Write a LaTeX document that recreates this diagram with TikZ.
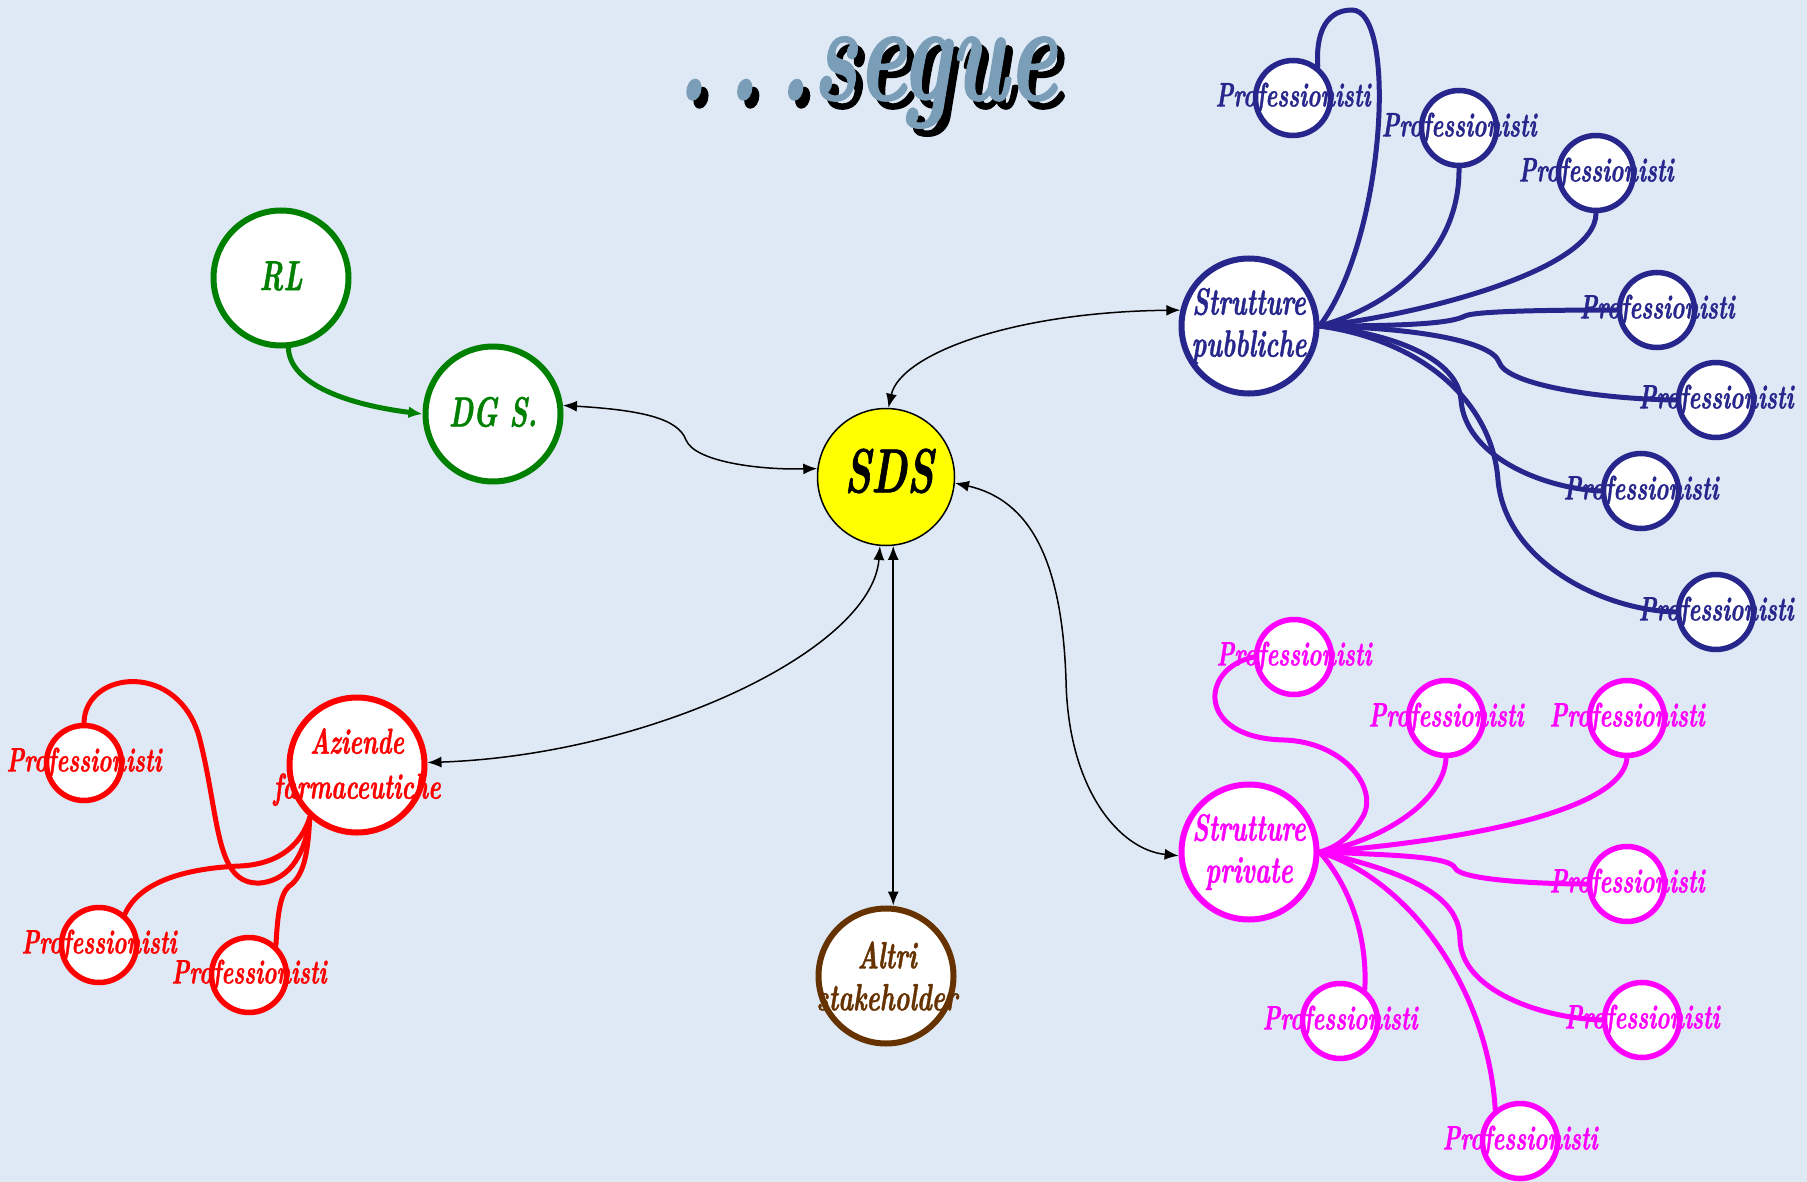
\documentclass[tikz,border=0pt]{standalone}
\usepackage{fontspec}
\usetikzlibrary{arrows.meta}
\newfontfamily\handf{lmroman10-bolditalic}[Extension=.otf, FakeStretch=0.66, FakeBold=1]
\definecolor{bgc}{RGB}{223,233,245}
\definecolor{bl}{RGB}{38,38,140}
\definecolor{mg}{RGB}{255,0,255}
\definecolor{rd}{RGB}{255,0,0}
\definecolor{gr}{RGB}{0,128,0}
\definecolor{br}{RGB}{102,51,0}
\definecolor{yl}{RGB}{255,255,0}
\definecolor{ttl}{RGB}{122,157,184}
\pgfdeclarelayer{bg}
\pgfsetlayers{bg,main}
\tikzset{
  bigc/.style={circle, fill=white, line width=6pt, minimum size=135pt, inner sep=0pt},
  smallc/.style={circle, fill=white, line width=5.5pt, minimum size=75pt, inner sep=0pt},
  ptxt/.style={font={\handf\fontsize{34}{34}\selectfont}, inner sep=0pt},
  mtxt/.style={font={\handf\fontsize{38}{42}\selectfont}, align=center, inner sep=0pt},
  atxt/.style={font={\handf\fontsize{36}{45}\selectfont}, align=center, inner sep=0pt},
  gtxt/.style={font={\handf\fontsize{42}{42}\selectfont}, inner sep=0pt},
  ttxt/.style={font={\handf\fontsize{140}{140}\selectfont}, anchor=base east, inner sep=0pt},
  conn/.style={line width=5pt, line cap=round},
  darr/.style={line width=1.5pt, black, {Latex[length=14pt,width=11pt]}-{Latex[length=14pt,width=11pt]}},
}
\newcommand\profnode[3]{%
  \node[smallc, draw=#1] (#2) at (#3) {};
  \node[ptxt, text=#1] (#2t) at (#2) {Professionisti};}
\begin{document}
\begin{tikzpicture}[x=1pt,y=-1pt]
\begin{pgfonlayer}{bg}
\fill[bgc] (0,0) rectangle (1807,1182);
\end{pgfonlayer}
\useasboundingbox (0,0) rectangle (1807,1182);

% title
\node[ttxt, text=black] (titleS) at (1064,108) {.\kern18pt.\kern18pt.\kern2pt segue};
\node[ttxt, text=ttl] (title) at (1057,100) {.\kern18pt.\kern18pt.\kern2pt segue};

% main nodes
\node[bigc, draw=gr] (rl) at (281,278) {};
\node[gtxt, text=gr] (rlt) at (281,276) {RL};
\node[bigc, draw=gr] (dg) at (493,414) {};
\node[gtxt, text=gr] (dgt) at (493,412) {DG S.};
\node[circle, fill=yl, draw=black, line width=1.5pt, minimum size=137pt, inner sep=0pt] (sds) at (886,477) {};
\node[font={\handf\fontsize{62}{62}\selectfont}, inner sep=0pt] (sdst) at (889,471) {SDS};
\node[bigc, draw=bl] (pub) at (1249,326) {};
\node[mtxt, text=bl] (pubt) at (pub) {Strutture\\pubbliche};
\node[bigc, draw=mg] (priv) at (1249,852) {};
\node[mtxt, text=mg] (privt) at (priv) {Strutture\\private};
\node[bigc, draw=rd] (az) at (357,765) {};
\node[atxt, text=rd] (azt) at (357,767) {Aziende\\farmaceutiche};
\node[bigc, draw=br] (altri) at (886,976) {};
\node[mtxt, text=br] (altrit) at (887,976) {Altri\\stakeholder};

% professionisti
\profnode{bl}{b1}{1293,98}
\profnode{bl}{b2}{1459,128}
\profnode{bl}{b3}{1596,173}
\profnode{bl}{b4}{1657,310}
\profnode{bl}{b5}{1716,400}
\profnode{bl}{b6}{1641,491}
\profnode{bl}{b7}{1716,612}
\profnode{mg}{m1}{1294,657}
\profnode{mg}{m2}{1446,718}
\profnode{mg}{m3}{1627,718}
\profnode{mg}{m4}{1627,884}
\profnode{mg}{m5}{1642,1020}
\profnode{mg}{m6}{1520,1141}
\profnode{mg}{m7}{1340,1021}
\profnode{rd}{r1}{84,763}
\profnode{rd}{r2}{99,945}
\profnode{rd}{r3}{249,975}

% coloured connectors
\begin{pgfonlayer}{bg}
\begin{scope}[conn, draw=bl]
\draw (pub.east) .. controls (1385,240) and (1398,10) .. (1352,10) .. controls (1322,10) and (1316,40) .. (b1.52);
\draw (pub.east) .. controls (1380,310) and (1460,260) .. (b2.south);
\draw (pub.east) .. controls (1420,315) and (1596,270) .. (b3.south);
\draw (pub.east) .. controls (1400,326) and (1450,324) .. (1465,316) .. controls (1475,311) and (1550,310) .. (b4.west);
\draw (pub.east) .. controls (1420,328) and (1492,342) .. (1499,362) .. controls (1506,385) and (1600,399) .. (b5.west);
\draw (pub.east) .. controls (1410,336) and (1458,365) .. (1461,400) .. controls (1465,455) and (1540,488) .. (b6.west);
\draw (pub.east) .. controls (1420,340) and (1492,400) .. (1498,480) .. controls (1505,560) and (1600,610) .. (b7.west);
\end{scope}
\begin{scope}[conn, draw=mg]
\draw (m1.west) .. controls (1200,668) and (1195,738) .. (1284,740) .. controls (1345,742) and (1380,790) .. (1362,818) .. controls (1350,838) and (1335,848) .. (priv.east);
\draw (m2.south) .. controls (1444,800) and (1385,840) .. (priv.east);
\draw (m3.south) .. controls (1622,810) and (1470,840) .. (priv.east);
\draw (priv.east) .. controls (1400,855) and (1450,857) .. (1455,868) .. controls (1460,880) and (1540,884) .. (m4.west);
\draw (priv.east) .. controls (1420,875) and (1460,900) .. (1460,940) .. controls (1462,990) and (1540,1018) .. (m5.west);
\draw (priv.east) .. controls (1410,880) and (1488,990) .. (m6.128);
\draw (priv.east) .. controls (1345,880) and (1368,930) .. (m7.52);
\end{scope}
\begin{scope}[conn, draw=rd]
\draw (r1.north) .. controls (85,670) and (180,660) .. (200,740) .. controls (220,820) and (215,885) .. (260,883) .. controls (292,880) and (306,850) .. (az.228);
\draw (r2.50) .. controls (140,880) and (190,868) .. (240,866) .. controls (282,864) and (302,842) .. (az.228);
\draw (r3.48) .. controls (278,905) and (282,890) .. (292,884) .. controls (305,872) and (308,850) .. (az.228);
\end{scope}
\end{pgfonlayer}

% green arrow
\draw[conn, draw=gr, -{Latex[length=14pt,width=12pt]}] (rl.-84) .. controls (290,385) and (350,405) .. (dg.west);

% black double arrows
\draw[darr] (dg.7) .. controls (640,410) and (678,418) .. (686,440) .. controls (695,462) and (760,470) .. (sds.173);
\draw[darr] (sds.88) .. controls (900,355) and (1010,312) .. (pub.167);
\draw[darr] (sds.-5) .. controls (1030,500) and (1062,560) .. (1066,680) .. controls (1068,790) and (1120,850) .. (priv.183);
\draw[darr] (sds.-95) .. controls (872,650) and (650,755) .. (az.2);
\draw[darr] (sds.-84) -- (sds.-84 |- altri.north);
\end{tikzpicture}
\end{document}
